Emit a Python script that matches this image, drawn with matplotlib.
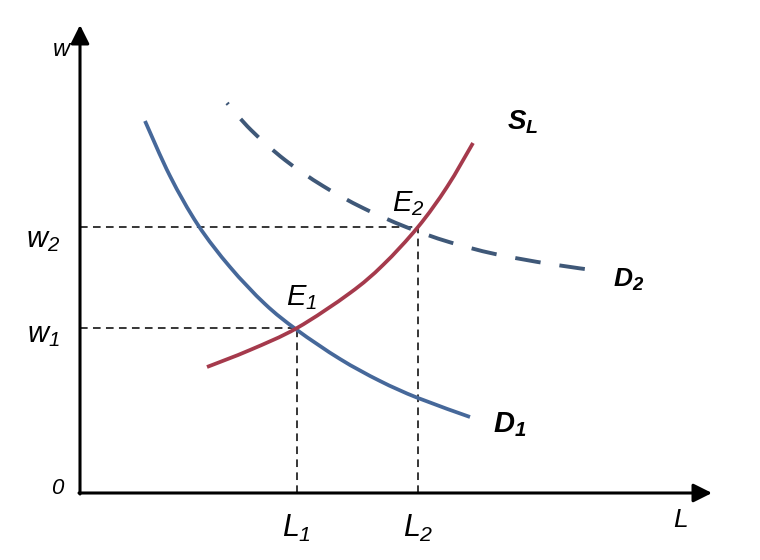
import matplotlib
matplotlib.use("Agg")
import matplotlib.pyplot as plt
from matplotlib.path import Path
from matplotlib.patches import PathPatch
import numpy as np

plt.rcParams['font.family'] = ['Liberation Sans', 'DejaVu Sans']
plt.rcParams['mathtext.fontset'] = 'custom'
plt.rcParams['mathtext.rm'] = 'Liberation Sans:italic'
plt.rcParams['mathtext.it'] = 'Liberation Sans:italic'
plt.rcParams['mathtext.bf'] = 'Liberation Sans:bold:italic'

# Curves (L, w)
d1_L = [65, 90, 118, 150, 185, 217, 260, 300, 338, 390]
d1_w = [372, 317, 268, 226, 189, 163, 134, 112, 95, 76]

sl_L = [127, 170, 217, 270, 303, 338, 367, 393]
sl_w = [126, 143, 165, 200, 228, 266, 306, 350]

d2_L = [147, 171, 205, 243, 283, 326, 369, 415, 470, 520]
d2_w = [390, 363, 333, 307, 285, 266, 251, 239, 229, 222]

L_eq = [217, 338]
w_eq = [165, 266]
eq_labels = ["$\\mathit{E}_{1}$", "$\\mathit{E}_{2}$"]


def smooth_path(xs, ys):
    """Smooth curve through the read points (Catmull-Rom as cubic Beziers)."""
    P = np.column_stack([xs, ys]).astype(float)
    n = len(P)
    verts = [P[0]]
    codes = [Path.MOVETO]
    for i in range(n - 1):
        p0 = P[i - 1] if i > 0 else P[i]
        p1 = P[i]
        p2 = P[i + 1]
        p3 = P[i + 2] if i + 2 < n else P[i + 1]
        c1 = p1 + (p2 - p0) / 6.0
        c2 = p2 - (p3 - p1) / 6.0
        verts += [c1, c2, p2]
        codes += [Path.CURVE4] * 3
    return Path(verts, codes)


fig = plt.figure(figsize=(7.6, 5.6), dpi=100)
ax = fig.add_axes([0, 0, 1, 1])
ax.set_xlim(-80, 680)
ax.set_ylim(-67, 493)
ax.axis('off')

# axes with arrows
ax.annotate('', xy=(0, 468), xytext=(0, -1),
            arrowprops=dict(arrowstyle='-|>', lw=2.2, color='black', mutation_scale=28, shrinkA=0, shrinkB=0))
ax.annotate('', xy=(632, 0), xytext=(-1, 0),
            arrowprops=dict(arrowstyle='-|>', lw=2.2, color='black', mutation_scale=28, shrinkA=0, shrinkB=0))

# guide lines
for Lq, wq in zip(L_eq, w_eq):
    ax.plot([0, Lq], [wq, wq], color='black', lw=1.1, ls=(0, (5, 3.5)), zorder=1)
    ax.plot([Lq, Lq], [0, wq], color='black', lw=1.1, ls=(0, (5, 3.5)), zorder=1)

ax.add_patch(PathPatch(smooth_path(d2_L, d2_w), fill=False, edgecolor='#3f5878', lw=2.8,
                       ls=(6.1, (6.6, 4.9)), capstyle='butt', zorder=2))
ax.add_patch(PathPatch(smooth_path(d1_L, d1_w), fill=False, edgecolor='#46689a', lw=2.7,
                       capstyle='butt', zorder=3))
ax.add_patch(PathPatch(smooth_path(sl_L, sl_w), fill=False, edgecolor='#a53a4c', lw=2.7,
                       capstyle='butt', zorder=4))

# labels
ax.text(-18, 443, "$\\mathit{w}$", fontsize=17, ha='center', va='center')
ax.text(-37, 253, "$\\mathit{w}_{2}$", fontsize=21, ha='center', va='center')
ax.text(-37, 158, "$\\mathit{w}_{1}$", fontsize=21, ha='center', va='center')
ax.text(-22, 5, "$0$", fontsize=16, ha='center', va='center')
ax.text(L_eq[0], -35, "$\\mathit{L}_{1}$", fontsize=22, ha='center', va='center')
ax.text(L_eq[1], -35, "$\\mathit{L}_{2}$", fontsize=22, ha='center', va='center')
ax.text(600, -27, "$\\mathit{L}$", fontsize=19, ha='center', va='center')
ax.text(L_eq[0] + 5, w_eq[0] + 30, eq_labels[0], fontsize=21, ha='center', va='center')
ax.text(L_eq[1] - 10, w_eq[1] + 23, eq_labels[1], fontsize=21, ha='center', va='center')
ax.text(443, 371, "$\\mathbf{S}_{\\mathbf{L}}$", fontsize=20, ha='center', va='center')
ax.text(549, 213, "$\\mathbf{D}_{\\mathbf{2}}$", fontsize=19, ha='center', va='center')
ax.text(430, 68, "$\\mathbf{D}_{\\mathbf{1}}$", fontsize=21, ha='center', va='center')

fig.savefig("out.png", dpi=100, facecolor='white')
